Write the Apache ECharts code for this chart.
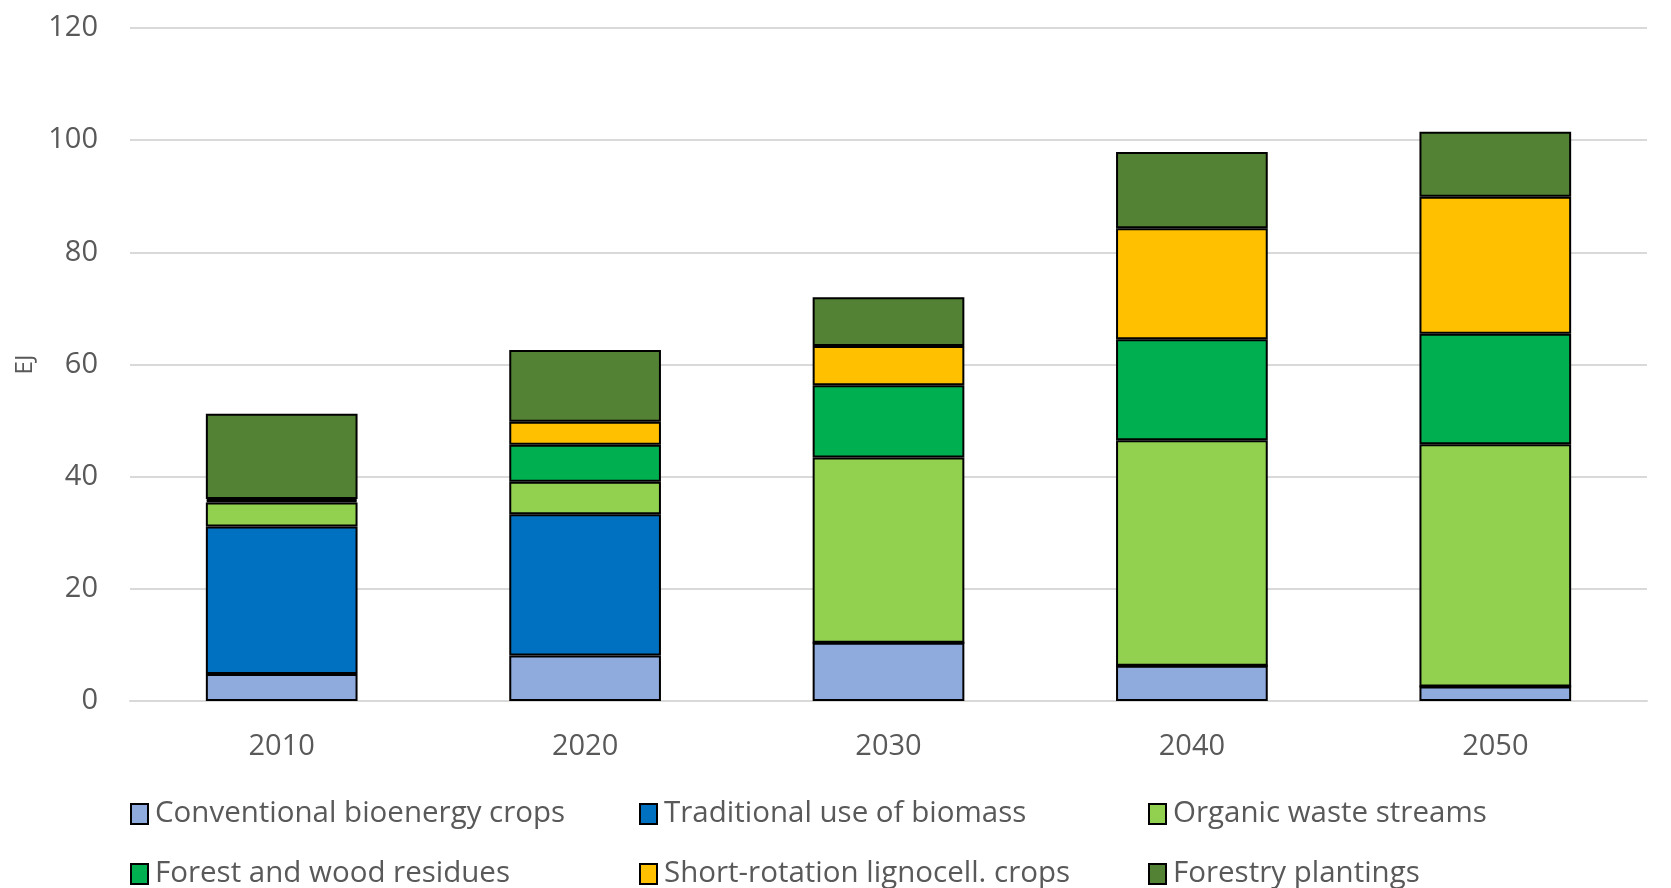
<!DOCTYPE html>
<html>
<head>
<meta charset="utf-8">
<title>Bioenergy supply</title>
<script src="https://cdn.jsdelivr.net/npm/echarts@6/dist/echarts.min.js"></script>
<style>
html,body{margin:0;padding:0;background:#fff;}
#chart{width:1671px;height:888px;}
</style>
</head>
<body>
<div id="chart"></div>
<script>
var years = ['2010','2020','2030','2040','2050']
var seriesNames = ['Conventional bioenergy crops','Traditional use of biomass','Organic waste streams',
    'Forest and wood residues','Short-rotation lignocell. crops','Forestry plantings']
var conventional = [4.8, 8.1, 10.4, 6.3, 2.6]
var traditional = [26.3, 25.2, 0, 0, 0]
var organicWaste = [4.3, 5.8, 33.0, 40.2, 43.2]
var forestResidues = [0.3, 6.6, 12.9, 18.0, 19.7]
var shortRotation = [0.3, 4.1, 7.0, 19.8, 24.4]
var plantings = [15.2, 12.8, 8.7, 13.6, 11.6]
var yTicks = [0, 20, 40, 60, 80, 100, 120]

var colors = ['#8faadc','#0070c0','#92d050','#00b050','#ffc000','#548235']
var values = [conventional, traditional, organicWaste, forestResidues, shortRotation, plantings]
var font = '"Open Sans", sans-serif'
var textColor = '#595959'

// legend: 3 columns x 2 rows, one legend per item so columns line up
var legendPos = [[130,799],[639,799],[1148,799],[130,859],[639,859],[1148,859]]
var legends = seriesNames.map(function(n,i){
    return {
        data:[n],
        left:legendPos[i][0],
        top:legendPos[i][1],
        itemWidth:17,
        itemHeight:20,
        itemGap:0,
        padding:0,
        icon:'rect',
        selectedMode:false,
        itemStyle:{borderColor:'#000',borderWidth:2},
        textStyle:{color:textColor,fontSize:29.5,fontFamily:font,padding:[0,0,0,2]}
    }
})

var series = seriesNames.map(function(n,i){
    return {
        name:n,
        type:'bar',
        stack:'total',
        barWidth:'50%',
        data:values[i],
        itemStyle:{color:colors[i],borderColor:'#000',borderWidth:2},
        emphasis:{disabled:true}
    }
})

var chart = echarts.init(document.getElementById('chart'))
chart.setOption({
    animation:false,
    color:colors,
    grid:{left:130,right:24,top:28,bottom:187,containLabel:false},
    legend:legends,
    xAxis:{
        type:'category',
        data:years,
        axisLine:{show:true,lineStyle:{color:'#d9d9d9',width:2}},
        axisTick:{show:false},
        axisLabel:{color:textColor,fontSize:29,fontFamily:font,margin:31}
    },
    yAxis:{
        type:'value',
        min:yTicks[0],
        max:yTicks[yTicks.length-1],
        interval:yTicks[1]-yTicks[0],
        name:'EJ',
        nameLocation:'middle',
        nameRotate:90,
        nameGap:90,
        nameTextStyle:{color:textColor,fontSize:24,fontFamily:font},
        axisLine:{show:false},
        axisTick:{show:false},
        axisLabel:{color:textColor,fontSize:29,fontFamily:font,margin:32},
        splitLine:{lineStyle:{color:'#d9d9d9',width:2}}
    },
    series:series
})
</script>
</body>
</html>
